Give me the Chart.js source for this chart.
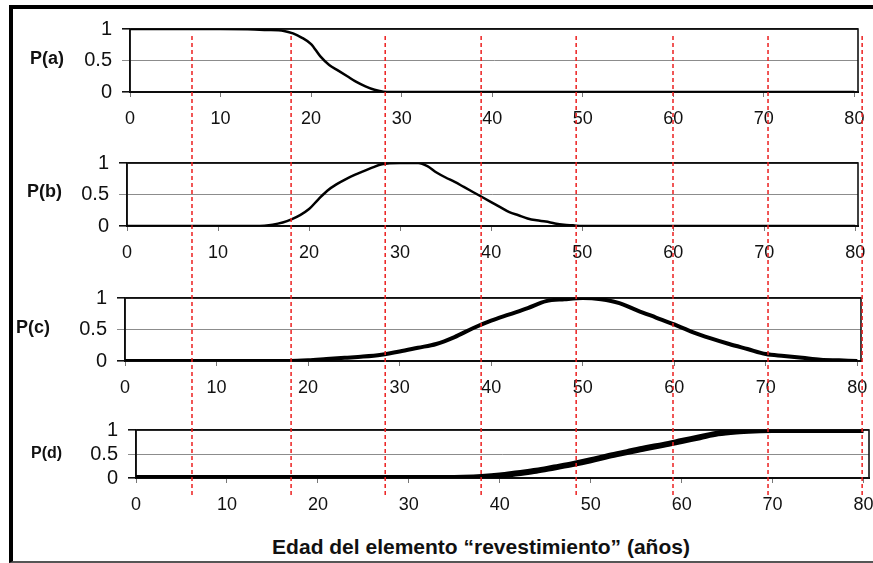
<!DOCTYPE html>
<html>
<head>
<meta charset="utf-8">
<script src="https://cdn.jsdelivr.net/npm/chart.js@4.4.0/dist/chart.umd.min.js"></script>
<style>
    html, body { margin: 0; padding: 0; background: #fff; }
    body { position: relative; width: 873px; height: 563px; overflow: hidden; font-family: Arial, 'Liberation Sans', sans-serif; color: #111; }
    .frame { position: absolute; left: 9px; top: 5px; width: 900px; height: 552px; border-top: 4px solid #000; border-left: 4px solid #000; border-bottom: 2px solid #555; }
    .panel { position: absolute; left: 0; }
    .plab { position: absolute; font-weight: bold; font-size: 18px; line-height: 18px; white-space: nowrap; }
    .xtitle { position: absolute; top: 536px; left: 481px; transform: translateX(-50%); font-weight: bold; font-size: 21px; line-height: 22px; white-space: nowrap; }
    #overlay { position: absolute; left: 0; top: 0; pointer-events: none; }
</style>
</head>
<body>
<div class="frame"></div>
<canvas id="pa" class="panel"></canvas>
<canvas id="pb" class="panel"></canvas>
<canvas id="pc" class="panel"></canvas>
<canvas id="pd" class="panel"></canvas>
<div id="labA" class="plab" style="left:30px; top:49px;"></div>
<div id="labB" class="plab" style="left:27px; top:182px;"></div>
<div id="labC" class="plab" style="left:16px; top:318px;"></div>
<div id="labD" class="plab" style="left:31px; top:444px; font-size:16px;"></div>
<div id="xtitle" class="xtitle"></div>
<canvas id="overlay"></canvas>
<script>
// DATA
var panelNames = ['P(a)', 'P(b)', 'P(c)', 'P(d)'];
var xTitle = 'Edad del elemento \u201crevestimiento\u201d (a\u00f1os)';

var agesA = [0, 10, 13, 15, 17, 18, 19, 20, 21, 22, 23, 24, 25, 26, 27, 28, 30, 40, 50, 60, 70, 80];
var probA = [1, 1, 0.995, 0.985, 0.97, 0.93, 0.86, 0.76, 0.57, 0.43, 0.34, 0.25, 0.16, 0.09, 0.035, 0.005, 0, 0, 0, 0, 0, 0];

var agesB = [0, 10, 14, 16, 18, 20, 21, 22, 23, 24, 25, 26, 27, 28, 30, 32, 33, 34, 35, 36, 37, 38, 39, 40, 41, 42, 43, 44, 45, 46, 47, 48, 49, 50, 60, 70, 80];
var probB = [0, 0, 0, 0.02, 0.1, 0.27, 0.42, 0.56, 0.66, 0.74, 0.81, 0.87, 0.93, 0.98, 1, 1, 0.95, 0.85, 0.77, 0.7, 0.62, 0.54, 0.46, 0.38, 0.3, 0.22, 0.17, 0.12, 0.09, 0.07, 0.04, 0.02, 0.01, 0, 0, 0, 0];

var agesC = [0, 10, 18, 20, 22, 24, 26, 28, 30, 32, 34, 36, 38, 40, 42, 44, 46, 48, 50, 52, 54, 56, 58, 60, 62, 64, 66, 68, 70, 72, 74, 76, 78, 80];
var probC = [0, 0, 0, 0.01, 0.03, 0.05, 0.07, 0.1, 0.15, 0.21, 0.27, 0.38, 0.52, 0.64, 0.74, 0.84, 0.95, 0.98, 1, 0.98, 0.92, 0.8, 0.69, 0.58, 0.46, 0.36, 0.27, 0.19, 0.11, 0.08, 0.05, 0.02, 0.01, 0];

var agesD = [0, 10, 20, 30, 34, 36, 38, 40, 42, 44, 46, 48, 50, 52, 54, 56, 58, 60, 62, 64, 66, 68, 70, 80];
var probD = [0, 0, 0, 0, 0, 0.005, 0.02, 0.05, 0.1, 0.15, 0.22, 0.29, 0.37, 0.46, 0.54, 0.62, 0.69, 0.77, 0.85, 0.93, 0.97, 0.99, 1, 1];

var yTicks = [0, 0.5, 1];

// red dashed guide lines (age units on the top panel scale)
var redLines = [6.85, 17.8, 28.2, 38.8, 49.3, 60.0, 70.5, 80.9];

var FONT = "Arial, 'Liberation Sans', sans-serif";

// plot box of each panel in page pixels
var boxes = {
    pa: { left: 130, right: 858, top: 22, bottom: 92, xMax: 80.4, lw: 2.5 },
    pb: { left: 127, right: 858, top: 156, bottom: 226, xMax: 80.3, lw: 2.5 },
    pc: { left: 125, right: 861, top: 291, bottom: 361, xMax: 80.4, lw: 4 },
    pd: { left: 136, right: 869, top: 423, bottom: 478, xMax: 80.6, lw: 6 }
};

var frameBox = {
    id: 'frameBox',
    beforeDatasetsDraw: function (chart) {
        var a = chart.chartArea, c = chart.ctx;
        c.save();
        c.strokeStyle = '#111';
        c.lineWidth = 1.6;
        c.strokeRect(a.left, a.top, a.right - a.left, a.bottom - a.top);
        c.restore();
    }
};

function pts(xs, ys) {
    return xs.map(function (x, i) { return { x: x, y: ys[i] }; });
}

// PANELS
function panel(id, ages, probs) {
    var b = boxes[id];
    var cv = document.getElementById(id);
    var padTop = 15, axisH = 40;
    cv.width = 900;
    cv.height = padTop + (b.bottom - b.top) + axisH;
    cv.style.top = (b.top - padTop) + 'px';

    new Chart(cv, {
        type: 'line',
        data: {
            datasets: [{
                data: pts(ages, probs),
                borderColor: '#000',
                borderWidth: b.lw,
                pointRadius: 0,
                cubicInterpolationMode: 'monotone',
                fill: false
            }]
        },
        options: {
            responsive: false,
            animation: false,
            devicePixelRatio: 1,
            layout: { padding: { left: 0, top: padTop, right: 900 - b.right, bottom: 0 } },
            plugins: { legend: { display: false }, tooltip: { enabled: false } },
            scales: {
                x: {
                    type: 'linear',
                    min: 0,
                    max: b.xMax,
                    afterFit: function (s) { s.height = axisH; },
                    ticks: { stepSize: 10, includeBounds: false, autoSkip: false, maxRotation: 0, padding: 11, color: '#111', font: { family: FONT, size: 18 } },
                    grid: { drawOnChartArea: false, tickLength: 5, color: '#777' },
                    border: { color: '#000', width: 2 }
                },
                y: {
                    min: 0,
                    max: 1,
                    afterFit: function (s) { s.width = b.left; },
                    afterBuildTicks: function (s) { s.ticks = yTicks.map(function (v) { return { value: v }; }); },
                    ticks: {
                        autoSkip: false,
                        padding: 10,
                        color: '#111',
                        font: { family: FONT, size: 20 },
                        callback: function (v) { return String(v); }
                    },
                    grid: {
                        tickLength: 8,
                        color: function (ctx) { return ctx.tick && ctx.tick.value === 0.5 ? '#8c8c8c' : '#111'; },
                        lineWidth: function (ctx) { return ctx.tick && ctx.tick.value === 0.5 ? 1 : 1.6; }
                    },
                    border: { color: '#000', width: 1.6 }
                }
            }
        },
        plugins: [frameBox]
    });
}

panel('pa', agesA, probA);
panel('pb', agesB, probB);
panel('pc', agesC, probC);
panel('pd', agesD, probD);

// LABELS
document.getElementById('labA').textContent = panelNames[0];
document.getElementById('labB').textContent = panelNames[1];
document.getElementById('labC').textContent = panelNames[2];
document.getElementById('labD').textContent = panelNames[3];
document.getElementById('xtitle').textContent = xTitle;

// RED GUIDES
var ov = document.getElementById('overlay');
ov.width = 900;
ov.height = 563;
var ovLeft = 130, ovTop = 35, ovBottom = 495, pxPerYear = 9.05, ovMax = 82;

new Chart(ov, {
    type: 'line',
    data: {
        datasets: redLines.map(function (x) {
            return {
                data: [{ x: x, y: 0 }, { x: x, y: 1 }],
                borderColor: 'rgb(236,32,32)',
                borderWidth: 1.5,
                borderDash: [4, 3],
                pointRadius: 0,
                clip: false
            };
        })
    },
    options: {
        responsive: false,
        animation: false,
        devicePixelRatio: 1,
        layout: { padding: { left: ovLeft, top: ovTop, right: 900 - (ovLeft + ovMax * pxPerYear), bottom: 563 - ovBottom } },
        plugins: { legend: { display: false }, tooltip: { enabled: false } },
        scales: {
            x: { type: 'linear', min: 0, max: ovMax, display: false },
            y: { min: 0, max: 1, display: false }
        }
    }
});
</script>
</body>
</html>
